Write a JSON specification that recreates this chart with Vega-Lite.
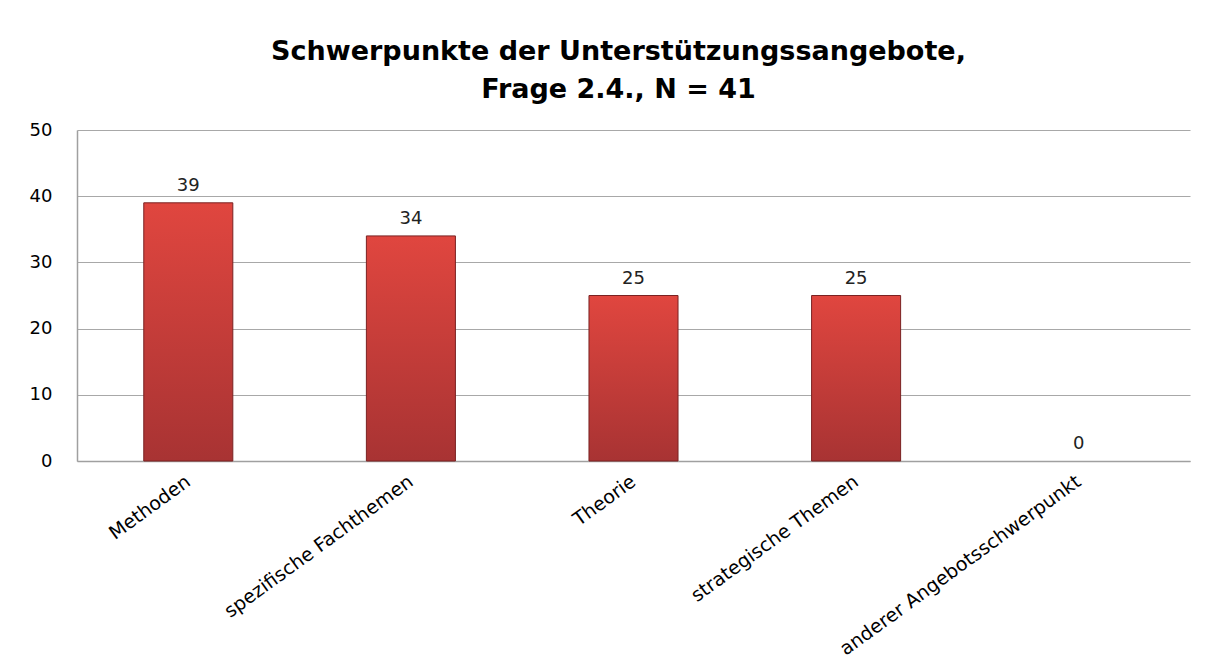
{
  "$schema": "https://vega.github.io/schema/vega-lite/v6.json",
  "width": 1113,
  "height": 331,
  "autosize": "none",
  "padding": {"left": 77, "top": 130, "right": 27, "bottom": 210},
  "background": "white",
  "title": {
    "text": ["Schwerpunkte der Unterstützungssangebote,", "Frage 2.4., N = 41"],
    "font": "DejaVu Sans",
    "fontSize": 27,
    "fontWeight": "bold",
    "color": "#000000",
    "anchor": "middle",
    "dx": -15,
    "lineHeight": 38,
    "offset": 17
  },
  "data": {
    "values": [
      {"Kategorie": "Methoden", "Anzahl": 39},
      {"Kategorie": "spezifische Fachthemen", "Anzahl": 34},
      {"Kategorie": "Theorie", "Anzahl": 25},
      {"Kategorie": "strategische Themen", "Anzahl": 25},
      {"Kategorie": "anderer Angebotsschwerpunkt", "Anzahl": 0}
    ]
  },
  "encoding": {
    "x": {
      "field": "Kategorie",
      "type": "nominal",
      "sort": null,
      "scale": {"paddingInner": 0.6, "paddingOuter": 0.3},
      "axis": {
        "title": null,
        "labelAngle": -36,
        "labelAlign": "right",
        "labelBaseline": "middle",
        "labelFont": "DejaVu Sans",
        "labelFontSize": 19,
        "labelColor": "#000000",
        "labelPadding": 18,
        "ticks": false,
        "domainColor": "#a0a0a0",
        "domainWidth": 1.5,
        "labelLimit": 500
      }
    },
    "y": {
      "field": "Anzahl",
      "type": "quantitative",
      "scale": {"domain": [0, 50], "nice": false},
      "axis": {
        "title": null,
        "values": [0, 10, 20, 30, 40, 50],
        "labelFont": "DejaVu Sans",
        "labelFontSize": 18,
        "labelColor": "#000000",
        "labelPadding": 25,
        "ticks": false,
        "domainColor": "#a0a0a0",
        "domainWidth": 1.5,
        "gridColor": "#a8a8a8",
        "gridWidth": 1.2
      }
    }
  },
  "layer": [
    {
      "transform": [{"filter": "datum.Anzahl > 0"}],
      "mark": {
        "type": "bar",
        "stroke": "#7a2222",
        "strokeWidth": 1,
        "color": {
          "gradient": "linear",
          "x1": 0, "y1": 0, "x2": 0, "y2": 1,
          "stops": [
            {"offset": 0, "color": "#e0463f"},
            {"offset": 1, "color": "#a83333"}
          ]
        }
      }
    },
    {
      "mark": {
        "type": "text",
        "dy": -12,
        "font": "DejaVu Sans",
        "fontSize": 18,
        "color": "#222222",
        "baseline": "alphabetic"
      },
      "encoding": {"text": {"field": "Anzahl", "type": "quantitative"}}
    }
  ],
  "config": {"view": {"stroke": null}}
}
